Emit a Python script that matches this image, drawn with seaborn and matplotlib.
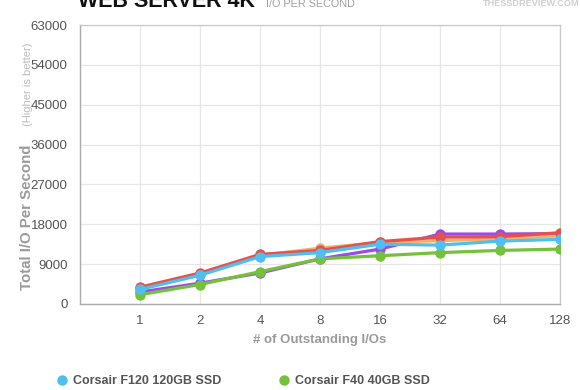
import matplotlib
matplotlib.use("Agg")
import matplotlib.pyplot as plt
from matplotlib.lines import Line2D
import pandas as pd
import seaborn as sns

# ---------------------------------------------------------------------------
# Data
# ---------------------------------------------------------------------------
queue_depths = ["1", "2", "4", "8", "16", "32", "64", "128"]

purple_iops = [2700, 4700, 7000, 10200, 12400, 15800, 15800, 15900]
orange_iops = [3500, 6800, 11000, 12600, 13900, 14300, 14700, 15400]
red_iops = [3800, 7000, 11200, 12100, 14100, 15100, 15200, 16100]
f40_iops = [2100, 4400, 7300, 10200, 10900, 11600, 12100, 12400]
f120_iops = [3300, 6500, 10700, 11600, 13500, 13300, 14200, 14600]

series_names = ["purple", "orange", "red", "Corsair F40 40GB SSD", "Corsair F120 120GB SSD"]
series_values = [purple_iops, orange_iops, red_iops, f40_iops, f120_iops]
series_colors = ["#9A4CE8", "#F0B06E", "#E8504E", "#74C23C", "#4EBFEE"]

y_ticks = [0, 9000, 18000, 27000, 36000, 45000, 54000, 63000]

# ---------------------------------------------------------------------------
# Build long-form frame
# ---------------------------------------------------------------------------
rows = []
for name, vals in zip(series_names, series_values):
    for i, v in enumerate(vals):
        rows.append({"pos": i, "iops": v, "drive": name})
df = pd.DataFrame(rows)

sns.set_style("white")
plt.rcParams["font.family"] = ["Liberation Sans", "DejaVu Sans"]

fig = plt.figure(figsize=(5.8, 3.9), dpi=100)
ax = fig.add_axes([80 / 580, 1 - 304 / 390, 480 / 580, 279 / 390])

sns.lineplot(
    data=df, x="pos", y="iops", hue="drive",
    hue_order=series_names, palette=dict(zip(series_names, series_colors)),
    marker="o", markersize=7.5, markeredgewidth=0, linewidth=2.3,
    legend=False, ax=ax, zorder=3,
)

ax.set_xlim(-1, 7)
ax.set_ylim(0, 63000)
ax.set_xticks(range(len(queue_depths)))
ax.set_xticklabels(queue_depths)
ax.set_yticks(y_ticks)
ax.set_yticklabels([str(t) for t in y_ticks])
ax.tick_params(axis="both", length=0, labelsize=9.5, labelcolor="#555555")
ax.tick_params(axis="x", pad=8)
ax.tick_params(axis="y", pad=9)

ax.grid(True, color="#E6E6E6", linewidth=0.9, zorder=0)
ax.set_axisbelow(True)
for side in ["left", "bottom"]:
    ax.spines[side].set_color("#ABABAB")
    ax.spines[side].set_linewidth(1.0)
for side in ["top", "right"]:
    ax.spines[side].set_color("#C8C8C8")
    ax.spines[side].set_linewidth(0.9)

ax.set_xlabel("# of Outstanding I/Os", fontsize=9.5, fontweight="bold",
              color="#9A9A9A", labelpad=5)
ax.set_ylabel("")

# rotated y label, two parts
fig.text(27 / 580, 1 - 217 / 390, "Total I/O Per Second", rotation=90,
         ha="center", va="center", fontsize=10.8, fontweight="bold", color="#9A9A9A")
fig.text(28 / 580, 1 - 84 / 390, "(Higher is better)", rotation=90,
         ha="center", va="center", fontsize=8, color="#BDBDBD")

# title strip (cut off at the top in the reference)
fig.text(78 / 580, 1 - 7 / 390, "WEB SERVER 4K", ha="left", va="baseline",
         fontsize=15.5, fontweight="bold", color="#111111")
fig.text(266 / 580, 1 - 7 / 390, "I/O PER SECOND", ha="left", va="baseline",
         fontsize=7.8, color="#A0A0A0")
fig.text(483 / 580, 1 - 6 / 390, "THESSDREVIEW.COM", ha="left", va="baseline",
         fontsize=6.6, fontweight="bold", color="#D0D0D0")

# legend (only the two visible entries)
handles = [
    Line2D([], [], linestyle="none", marker="o", markersize=7.5,
           markerfacecolor=series_colors[4], markeredgewidth=0),
    Line2D([], [], linestyle="none", marker="o", markersize=7.5,
           markerfacecolor=series_colors[3], markeredgewidth=0),
]
leg = fig.legend(handles, [series_names[4], series_names[3]],
                 loc="center left", bbox_to_anchor=(44 / 580, 1 - 381 / 390),
                 ncol=2, frameon=False, handletextpad=0.4, columnspacing=4.5,
                 handlelength=1.0, prop={"size": 9, "weight": "bold"})
for t in leg.get_texts():
    t.set_color("#555555")

fig.savefig("out.png", dpi=100)
